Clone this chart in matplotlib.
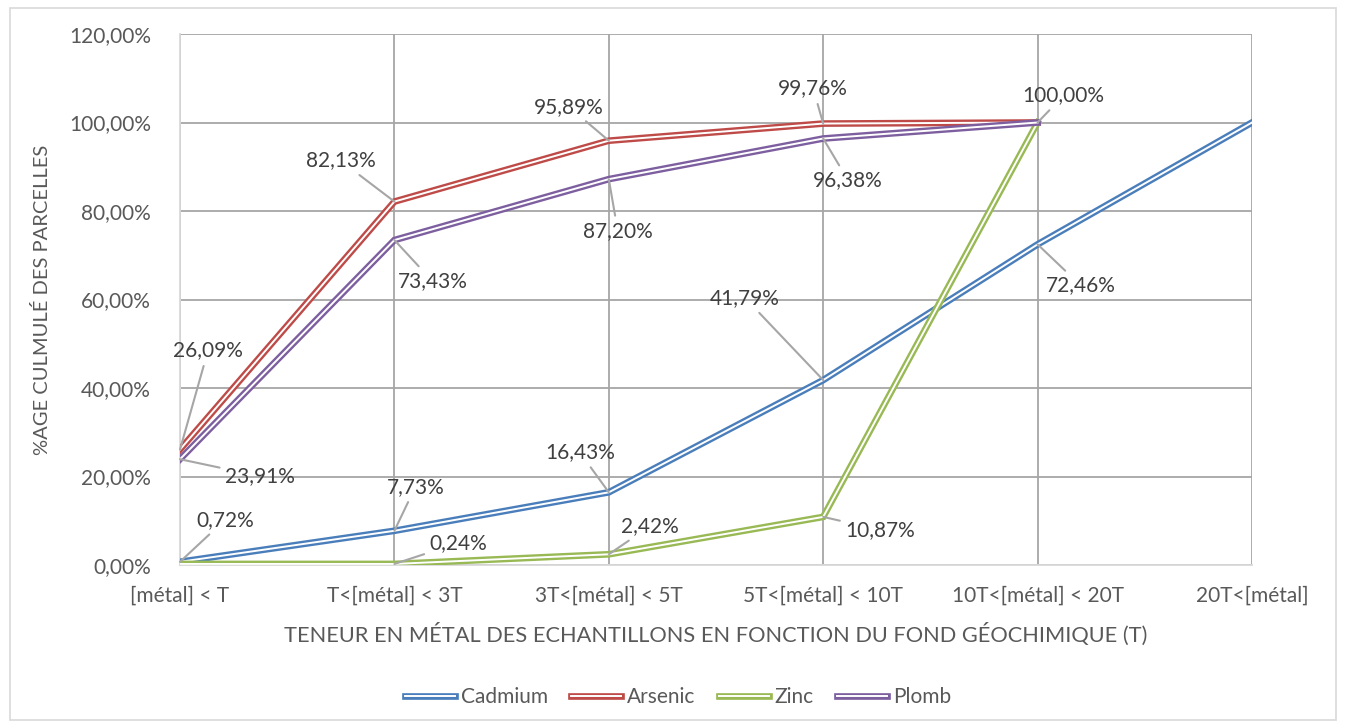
import matplotlib
matplotlib.use("Agg")
import matplotlib.pyplot as plt
import matplotlib.patheffects as pe
from matplotlib.patches import Rectangle
from matplotlib.ticker import FuncFormatter

plt.rcParams["font.family"] = ["Lato", "DejaVu Sans"]

# --- data ---
categories = ["[métal] < T", "T<[métal] < 3T", "3T<[métal] < 5T",
              "5T<[métal] < 10T", "10T<[métal] < 20T", "20T<[métal]"]
cadmium = [0.72, 7.73, 16.43, 41.79, 72.46, 100.00]
arsenic = [26.09, 82.13, 95.89, 99.76, 100.00]
zinc = [0.24, 0.24, 2.42, 10.87, 100.00]
plomb = [23.91, 73.43, 87.20, 96.38, 100.00]

series_names = ["Cadmium", "Arsenic", "Zinc", "Plomb"]
series_values = [cadmium, arsenic, zinc, plomb]
colors = ["#4a7ebb", "#be4b48", "#98b954", "#7d5fa0"]

# label offsets (pixels) for each point, None = no label
label_offsets = [
    [(45, 42), (21, 44), (-29, 40), (-78, 82), (43, -41), None],
    [(28, 99), (-54, 41), (-40, 34), (-10, 35), None],
    [None, (64, 21), (41, 28), (57, -13), (26, 27)],
    [(80, -17), (38, -41), (9, -52), (25, -42), None],
]

fig = plt.figure(figsize=(13.46, 7.28), dpi=100)
fig.patches.append(Rectangle((10 / 1346, 8 / 728), 1326 / 1346, 712 / 728,
                             transform=fig.transFigure, fill=False,
                             edgecolor="#d9d9d9", linewidth=1.2))
ax = fig.add_axes([180 / 1346, 163 / 728, 1072 / 1346, 531 / 728])

for name, vals, col, offs in zip(series_names, series_values, colors, label_offsets):
    x = list(range(len(vals)))
    ax.plot(x, vals, color="white", linewidth=1.4, label=name, zorder=3,
            solid_joinstyle="miter",
            path_effects=[pe.Stroke(linewidth=4.8, foreground=col), pe.Normal()])
    for xi, v, off in zip(x, vals, offs):
        if off is None:
            continue
        ax.annotate(f"{v:.2f}%".replace(".", ","), xy=(xi, v), xytext=off,
                    textcoords="offset pixels", ha="center", va="center",
                    fontsize=15, color="#404040", zorder=5,
                    arrowprops=dict(arrowstyle="-", color="#a6a6a6", lw=1.5,
                                    shrinkA=2, shrinkB=0))

ax.set_xlim(0, 5)
ax.set_ylim(0, 120)
ax.set_xticks(range(len(categories)))
ax.set_xticklabels(categories)
ax.set_yticks(range(0, 121, 20))
ax.yaxis.set_major_formatter(FuncFormatter(lambda v, p: f"{v:.2f}%".replace(".", ",")))
ax.grid(True, color="#a6a6a6", linewidth=1.3)
ax.set_axisbelow(True)
for s in ["top", "right"]:
    ax.spines[s].set_visible(False)
for s in ["left", "bottom"]:
    ax.spines[s].set_color("#d9d9d9")
    ax.spines[s].set_linewidth(1.3)
ax.tick_params(length=0, labelsize=15, labelcolor="#595959")
ax.tick_params(axis="y", pad=21)
ax.tick_params(axis="x", pad=15)

ax.set_ylabel("%AGE CULMULÉ DES PARCELLES", fontsize=14.5, color="#595959", labelpad=13)
ax.set_xlabel("TENEUR EN MÉTAL DES ECHANTILLONS EN FONCTION DU FOND GÉOCHIMIQUE (T)",
              fontsize=15.7, color="#595959", labelpad=12)

leg = fig.legend(loc="center", bbox_to_anchor=(678 / 1346, 1 - 697 / 728), ncol=4,
                 frameon=False, fontsize=15, handlelength=2.4, handletextpad=0.3,
                 columnspacing=1.1, labelcolor="#595959")

fig.savefig("out.png", dpi=100)
